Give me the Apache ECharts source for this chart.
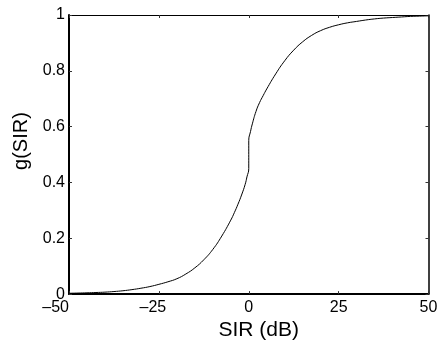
<!DOCTYPE html>
<html>
<head>
<meta charset="utf-8">
<script src="https://cdn.jsdelivr.net/npm/echarts@6/dist/echarts.min.js"></script>
<style>
html,body{margin:0;padding:0;background:#fff;}
#chart{width:443px;height:346px;}
</style>
</head>
<body>
<div id="chart"></div>
<script>
// SIR in dB
var sirValues = [-50, -47.5, -45, -42.5, -40, -37.5, -35, -32.5, -30, -27.5, -25, -22.5, -20, -17.5, -15, -12.5, -10, -7.5, -5, -4, -3, -2, -1, -0.5, 0,
                 0, 0.5, 1, 2, 3, 4, 5, 7.5, 10, 12.5, 15, 17.5, 20, 22.5, 25, 27.5, 30, 32.5, 35, 37.5, 40, 42.5, 45, 47.5, 50];
// g(SIR)
var gValues = [0.003, 0.0037, 0.0046, 0.0057, 0.007, 0.0092, 0.012, 0.016, 0.021, 0.027, 0.035, 0.044, 0.055, 0.072, 0.094, 0.123, 0.160, 0.208, 0.265, 0.292, 0.322, 0.355, 0.393, 0.42, 0.45,
               0.55, 0.583, 0.610, 0.654, 0.686, 0.711, 0.735, 0.789, 0.836, 0.874, 0.904, 0.927, 0.944, 0.956, 0.965, 0.972, 0.977, 0.982, 0.986, 0.989, 0.991, 0.993, 0.995, 0.996, 0.997];
var xTicks = [-50, -25, 0, 25, 50];
var yTicks = [0, 0.2, 0.4, 0.6, 0.8, 1];
var xTitle = 'SIR (dB)';
var yTitle = 'g(SIR)';

var data = sirValues.map(function (x, i) { return [x, gValues[i]]; });
var FONT = 'Liberation Sans, Arial, Helvetica, sans-serif';

var chart = echarts.init(document.getElementById('chart'), null, {renderer: 'canvas'});
chart.setOption({
  animation: false,
  backgroundColor: '#ffffff',
  grid: {left: 69, right: 14.5, top: 15, bottom: 47},
  xAxis: [{
    type: 'value', min: xTicks[0], max: xTicks[xTicks.length - 1], interval: 25,
    position: 'bottom',
    name: xTitle, nameLocation: 'middle', nameGap: 22,
    nameTextStyle: {fontFamily: FONT, fontSize: 21, color: '#000', padding: [0, 0, 0, 20]},
    axisLine: {show: true, onZero: false, lineStyle: {color: '#000', width: 2}},
    axisTick: {show: true, inside: true, length: 3, lineStyle: {color: '#333', width: 1}},
    splitLine: {show: false},
    axisLabel: {
      margin: 5, fontFamily: FONT, fontSize: 16, color: '#000',
      alignMinLabel: 'right',
      formatter: function (v) {
        var s = String(v).replace('-', '\u2013');
        if (v === -25) return '{a|' + s + '}';
        return s;
      },
      rich: {a: {fontFamily: FONT, fontSize: 16, color: '#000', padding: [0, 12, 0, 0]}}
    }
  }, {
    type: 'value', min: xTicks[0], max: xTicks[xTicks.length - 1], interval: 25,
    position: 'top',
    axisLine: {show: true, onZero: false, lineStyle: {color: '#000', width: 1}},
    axisTick: {show: true, inside: true, length: 3, lineStyle: {color: '#333', width: 1}},
    axisLabel: {show: false},
    splitLine: {show: false}
  }],
  yAxis: [{
    type: 'value', min: yTicks[0], max: yTicks[yTicks.length - 1], interval: 0.2,
    position: 'left',
    name: yTitle, nameLocation: 'middle', nameGap: 25, nameRotate: 90,
    nameTextStyle: {fontFamily: FONT, fontSize: 20, color: '#000', padding: [0, 0, 0, 27]},
    axisLine: {show: true, onZero: false, lineStyle: {color: '#000', width: 2}},
    axisTick: {show: true, inside: true, length: 3, lineStyle: {color: '#333', width: 1}},
    splitLine: {show: false},
    axisLabel: {margin: 4, fontFamily: FONT, fontSize: 16, color: '#000'}
  }, {
    type: 'value', min: yTicks[0], max: yTicks[yTicks.length - 1], interval: 0.2,
    position: 'right',
    axisLine: {show: true, onZero: false, lineStyle: {color: '#000', width: 1.5}},
    axisTick: {show: true, inside: true, length: 3, lineStyle: {color: '#333', width: 1}},
    axisLabel: {show: false},
    splitLine: {show: false}
  }],
  series: [{
    type: 'line',
    xAxisIndex: 0, yAxisIndex: 0,
    data: data,
    showSymbol: false,
    smooth: 0.5,
    lineStyle: {color: '#000', width: 1},
    z: 1
  }]
});
</script>
</body>
</html>
